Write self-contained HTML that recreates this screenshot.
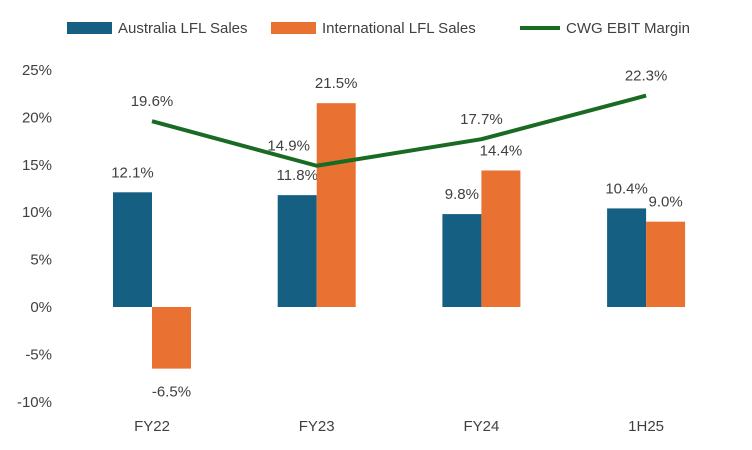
<!DOCTYPE html>
<html><head><meta charset="utf-8"><style>
body{margin:0;background:#fff;}
svg{display:block;font-family:"Liberation Sans",sans-serif;}
</style></head><body>
<svg id="chart" width="752" height="450"></svg>
<script>
const categories=["FY22","FY23","FY24","1H25"];
const australia=[12.1,11.8,9.8,10.4];
const international=[-6.5,21.5,14.4,9.0];
const margin=[19.6,14.9,17.7,22.3];
const ticks=[25,20,15,10,5,0,-5,-10];
const tickLabels=["25%","20%","15%","10%","5%","0%","-5%","-10%"];

const NS="http://www.w3.org/2000/svg";
const svg=document.getElementById('chart');
const y=v=>307-v*9.48;
const x=i=>152+i*164.7;
const bw=39;
function el(t,a,txt){const e=document.createElementNS(NS,t);for(const k in a)e.setAttribute(k,a[k]);if(txt!==undefined)e.textContent=txt;svg.appendChild(e);return e;}

ticks.forEach((t,i)=>{
  const e=el('text',{x:52,y:y(t)+5,'text-anchor':'end','font-size':15,fill:'#404040'},tickLabels[i]);
  
  
});
categories.forEach((c,i)=>{
  const e=el('text',{x:x(i),y:431,'text-anchor':'middle','font-size':15,fill:'#404040'},c);
  
  
});
const fmt=v=>v.toFixed(1)+'%';
australia.forEach((v,i)=>{
  const r=el('rect',{x:x(i)-bw,y:Math.min(y(v),y(0)),width:bw,height:Math.abs(y(v)-y(0)),fill:'#156082'});
  
  
  const t=el('text',{x:x(i)-bw/2,y:y(v)-15,'text-anchor':'middle','font-size':15,fill:'#404040'},fmt(v));
  
  
});
international.forEach((v,i)=>{
  const r=el('rect',{x:x(i),y:Math.min(y(v),y(0)),width:bw,height:Math.abs(y(v)-y(0)),fill:'#E97132'});
  
  
  const ty=v<0?y(v)+28:y(v)-15;
  const t=el('text',{x:x(i)+bw/2,y:ty,'text-anchor':'middle','font-size':15,fill:'#404040'},fmt(v));
  
  
});
const pts=margin.map((v,i)=>x(i)+','+y(v)).join(' ');
const pl=el('polyline',{points:pts,fill:'none',stroke:'#196B24','stroke-width':4,'stroke-linejoin':'round'});


margin.forEach((v,i)=>{
  const dx=i===1?-28:0;
  const t=el('text',{x:x(i)+dx,y:y(v)-15,'text-anchor':'middle','font-size':15,fill:'#404040'},fmt(v));
  
  
});
const lg=[["rect",67,"#156082","Australia LFL Sales"],["rect",271,"#E97132","International LFL Sales"],["line",520,"#196B24","CWG EBIT Margin"]];
lg.forEach(l=>{
  let s;
  if(l[0]==='rect') s=el('rect',{x:l[1],y:22,width:45,height:12,fill:l[2]});
  else s=el('line',{x1:l[1],y1:28,x2:l[1]+40,y2:28,stroke:l[2],'stroke-width':4});
  
  
  const t=el('text',{x:l[0]==='rect'?l[1]+51:l[1]+46,y:33,'font-size':15,fill:'#404040'},l[3]);
  
  
});
</script>
</body></html>
